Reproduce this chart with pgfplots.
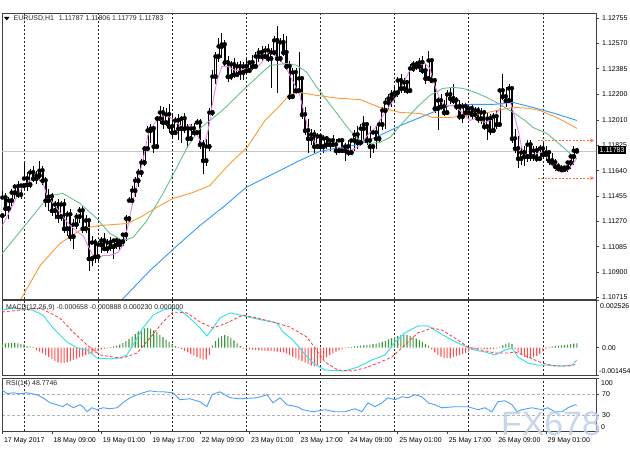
\documentclass[border=0pt]{standalone}
\usepackage{pgfplots}
\pgfplotsset{compat=1.18}
\usepackage{pgfplotstable}
\usepackage{fontspec}
\setmainfont{Liberation Sans}
\usetikzlibrary{arrows.meta}
\definecolor{maPink}{RGB}{238,130,238}
\definecolor{maGreen}{RGB}{102,194,140}
\definecolor{maOrange}{RGB}{255,153,51}
\definecolor{maBlue}{RGB}{51,153,255}
\definecolor{macdCyan}{RGB}{64,224,232}
\definecolor{sigRed}{RGB}{255,60,60}
\definecolor{histGreen}{RGB}{60,150,60}
\definecolor{histRed}{RGB}{255,80,80}
\definecolor{rsiBlue}{RGB}{77,160,255}
\definecolor{markOrange}{RGB}{255,110,60}
\definecolor{wm}{RGB}{190,208,232}
\newcommand{\sfont}{\fontsize{7}{8.4}\selectfont}

\pgfplotstableread{
i o h l c
0 1.11312 1.11495 1.11239 1.11444
1 1.11444 1.11480 1.11312 1.11364
2 1.11364 1.11451 1.11290 1.11422
3 1.11422 1.11510 1.11385 1.11480
4 1.11480 1.11546 1.11437 1.11524
5 1.11524 1.11568 1.11444 1.11466
6 1.11466 1.11546 1.11437 1.11532
7 1.11532 1.11700 1.11510 1.11583
8 1.11583 1.11627 1.11495 1.11539
9 1.11539 1.11656 1.11517 1.11627
10 1.11627 1.11671 1.11554 1.11583
11 1.11583 1.11641 1.11546 1.11605
12 1.11605 1.11714 1.11568 1.11641
13 1.11641 1.11678 1.11532 1.11568
14 1.11568 1.11597 1.11378 1.11422
15 1.11422 1.11510 1.11349 1.11451
16 1.11451 1.11480 1.11312 1.11349
17 1.11349 1.11422 1.11290 1.11393
18 1.11393 1.11437 1.11261 1.11305
19 1.11305 1.11422 1.11276 1.11393
20 1.11393 1.11437 1.11188 1.11217
21 1.11217 1.11349 1.11166 1.11320
22 1.11320 1.11364 1.11130 1.11159
23 1.11159 1.11290 1.11071 1.11247
24 1.11247 1.11334 1.11217 1.11305
25 1.11305 1.11378 1.11261 1.11349
26 1.11349 1.11385 1.11188 1.11217
27 1.11217 1.11320 1.11188 1.11276
28 1.11276 1.11290 1.10910 1.10998
29 1.10998 1.11166 1.10947 1.11115
30 1.11115 1.11144 1.10969 1.11013
31 1.11013 1.11130 1.10983 1.11100
32 1.11100 1.11159 1.11042 1.11130
33 1.11130 1.11188 1.11056 1.11071
34 1.11071 1.11144 1.11042 1.11115
35 1.11115 1.11159 1.11056 1.11086
36 1.11086 1.11130 1.10998 1.11130
37 1.11130 1.11159 1.11071 1.11100
38 1.11100 1.11152 1.11056 1.11122
39 1.11122 1.11188 1.11093 1.11173
40 1.11173 1.11320 1.11130 1.11290
41 1.11290 1.11451 1.11261 1.11422
42 1.11422 1.11532 1.11393 1.11495
43 1.11495 1.11597 1.11451 1.11568
44 1.11568 1.11656 1.11524 1.11627
45 1.11627 1.11729 1.11597 1.11700
46 1.11700 1.11824 1.11671 1.11802
47 1.11802 1.11970 1.11787 1.11934
48 1.11934 1.11978 1.11846 1.11948
49 1.11948 1.11963 1.11773 1.11817
50 1.11817 1.12043 1.11802 1.12021
51 1.12021 1.12116 1.11978 1.12065
52 1.12065 1.12109 1.11948 1.11992
53 1.11992 1.12095 1.11963 1.12051
54 1.12051 1.12124 1.11919 1.11963
55 1.11963 1.12051 1.11875 1.11919
56 1.11919 1.12036 1.11904 1.12007
57 1.12007 1.12051 1.11861 1.11948
58 1.11948 1.12043 1.11846 1.12021
59 1.12021 1.12065 1.11919 1.11948
60 1.11948 1.11978 1.11809 1.11875
61 1.11875 1.11978 1.11861 1.11948
62 1.11948 1.11992 1.11890 1.11919
63 1.11919 1.12021 1.11904 1.11992
64 1.11992 1.12021 1.11802 1.11831
65 1.11831 1.11861 1.11619 1.11714
66 1.11714 1.11875 1.11671 1.11817
67 1.11817 1.12095 1.11787 1.12065
68 1.12065 1.12372 1.12043 1.12328
69 1.12328 1.12504 1.12270 1.12475
70 1.12475 1.12606 1.12431 1.12548
71 1.12548 1.12643 1.12460 1.12562
72 1.12562 1.12592 1.12402 1.12431
73 1.12431 1.12475 1.12285 1.12328
74 1.12328 1.12445 1.12299 1.12416
75 1.12416 1.12460 1.12314 1.12343
76 1.12343 1.12431 1.12328 1.12402
77 1.12402 1.12445 1.12299 1.12358
78 1.12358 1.12431 1.12299 1.12402
79 1.12402 1.12460 1.12343 1.12372
80 1.12372 1.12445 1.12358 1.12431
81 1.12431 1.12482 1.12372 1.12402
82 1.12402 1.12504 1.12387 1.12475
83 1.12475 1.12533 1.12431 1.12504
84 1.12504 1.12548 1.12445 1.12475
85 1.12475 1.12548 1.12460 1.12518
86 1.12518 1.12562 1.12431 1.12460
87 1.12460 1.12533 1.12241 1.12504
88 1.12504 1.12621 1.12475 1.12592
89 1.12592 1.12694 1.12211 1.12460
90 1.12460 1.12606 1.12431 1.12577
91 1.12577 1.12635 1.12475 1.12504
92 1.12504 1.12621 1.12372 1.12402
93 1.12402 1.12445 1.12153 1.12182
94 1.12182 1.12387 1.12168 1.12358
95 1.12358 1.12387 1.12197 1.12226
96 1.12226 1.12504 1.12211 1.12314
97 1.12314 1.12328 1.12021 1.12051
98 1.12051 1.12109 1.11904 1.11934
99 1.11934 1.12021 1.11766 1.11875
100 1.11875 1.11948 1.11831 1.11904
101 1.11904 1.11934 1.11766 1.11817
102 1.11817 1.11919 1.11802 1.11890
103 1.11890 1.11904 1.11787 1.11817
104 1.11817 1.11904 1.11773 1.11875
105 1.11875 1.11890 1.11802 1.11831
106 1.11831 1.11875 1.11787 1.11861
107 1.11861 1.11904 1.11817 1.11831
108 1.11831 1.11875 1.11758 1.11787
109 1.11787 1.11875 1.11773 1.11861
110 1.11861 1.11875 1.11773 1.11787
111 1.11787 1.11846 1.11714 1.11817
112 1.11817 1.11861 1.11744 1.11773
113 1.11773 1.11875 1.11758 1.11861
114 1.11861 1.11934 1.11787 1.11904
115 1.11904 1.11963 1.11802 1.11846
116 1.11846 1.11978 1.11817 1.11948
117 1.11948 1.12036 1.11846 1.11978
118 1.11978 1.11992 1.11831 1.11861
119 1.11861 1.11963 1.11736 1.11817
120 1.11817 1.11948 1.11773 1.11919
121 1.11919 1.11963 1.11802 1.11875
122 1.11875 1.12007 1.11846 1.11978
123 1.11978 1.12109 1.11934 1.12080
124 1.12080 1.12168 1.11948 1.12138
125 1.12138 1.12197 1.12080 1.12168
126 1.12168 1.12226 1.12109 1.12197
127 1.12197 1.12255 1.12138 1.12211
128 1.12211 1.12328 1.12182 1.12299
129 1.12299 1.12343 1.12211 1.12241
130 1.12241 1.12314 1.12211 1.12285
131 1.12285 1.12299 1.12197 1.12226
132 1.12226 1.12416 1.12211 1.12387
133 1.12387 1.12445 1.12358 1.12416
134 1.12416 1.12445 1.12372 1.12402
135 1.12402 1.12460 1.12358 1.12431
136 1.12431 1.12475 1.12343 1.12372
137 1.12372 1.12416 1.12270 1.12314
138 1.12314 1.12518 1.12299 1.12445
139 1.12445 1.12460 1.12285 1.12299
140 1.12299 1.12314 1.12065 1.12095
141 1.12095 1.12182 1.11934 1.12153
142 1.12153 1.12197 1.12080 1.12109
143 1.12109 1.12153 1.12036 1.12065
144 1.12065 1.12226 1.12051 1.12197
145 1.12197 1.12241 1.12124 1.12168
146 1.12168 1.12270 1.12124 1.12153
147 1.12153 1.12182 1.12080 1.12109
148 1.12109 1.12153 1.12007 1.12036
149 1.12036 1.12138 1.11992 1.12109
150 1.12109 1.12138 1.12036 1.12065
151 1.12065 1.12124 1.12021 1.12095
152 1.12095 1.12124 1.12021 1.12051
153 1.12051 1.12109 1.12007 1.12080
154 1.12080 1.12109 1.11992 1.12021
155 1.12021 1.12095 1.11978 1.12065
156 1.12065 1.12080 1.11934 1.11963
157 1.11963 1.12065 1.11861 1.12021
158 1.12021 1.12051 1.11904 1.11934
159 1.11934 1.12065 1.11919 1.12036
160 1.12036 1.12080 1.11948 1.11978
161 1.11978 1.12241 1.11963 1.12226
162 1.12226 1.12343 1.12153 1.12182
163 1.12182 1.12255 1.12109 1.12153
164 1.12153 1.12270 1.12138 1.12241
165 1.12241 1.12255 1.11846 1.11875
166 1.11875 1.11948 1.11773 1.11802
167 1.11802 1.11890 1.11663 1.11729
168 1.11729 1.11817 1.11685 1.11773
169 1.11773 1.11817 1.11671 1.11744
170 1.11744 1.11861 1.11700 1.11831
171 1.11831 1.11861 1.11714 1.11744
172 1.11744 1.11817 1.11714 1.11787
173 1.11787 1.11817 1.11700 1.11729
174 1.11729 1.11831 1.11714 1.11802
175 1.11802 1.11846 1.11729 1.11758
176 1.11758 1.11817 1.11714 1.11773
177 1.11773 1.11787 1.11685 1.11714
178 1.11714 1.11773 1.11671 1.11700
179 1.11700 1.11729 1.11641 1.11671
180 1.11671 1.11700 1.11627 1.11656
181 1.11656 1.11685 1.11627 1.11649
182 1.11649 1.11678 1.11627 1.11663
183 1.11663 1.11714 1.11634 1.11700
184 1.11700 1.11773 1.11656 1.11744
185 1.11744 1.11817 1.11685 1.11787
186 1.11787 1.11806 1.11779 1.11783
}\candles

\pgfplotstableread[row sep=\\]{
i v\\
0 0.00020\\ 1 0.00022\\ 2 0.00024\\ 3 0.00025\\ 4 0.00025\\ 5 0.00023\\ 6 0.00020\\ 7 0.00016\\
8 0.00008\\ 9 0.00005\\ 10 0.00003\\ 11 -0.00015\\ 12 -0.00022\\ 13 -0.00030\\ 14 -0.00040\\
15 -0.00050\\ 16 -0.00060\\ 17 -0.00070\\ 18 -0.00078\\ 19 -0.00082\\ 20 -0.00082\\ 21 -0.00078\\
22 -0.00072\\ 23 -0.00065\\ 24 -0.00058\\ 25 -0.00052\\ 26 -0.00046\\ 27 -0.00040\\ 28 -0.00036\\
29 -0.00032\\ 30 -0.00028\\ 31 -0.00018\\ 32 -0.00010\\ 33 -0.00006\\ 34 -0.00004\\ 35 0.00003\\
36 0.00006\\ 37 0.00010\\ 38 0.00016\\ 39 0.00024\\ 40 0.00034\\ 41 0.00045\\ 42 0.00058\\
43 0.00072\\ 44 0.00086\\ 45 0.00096\\ 46 0.00102\\ 47 0.00104\\ 48 0.00100\\ 49 0.00092\\
50 0.00082\\ 51 0.00068\\ 52 0.00055\\ 53 0.00042\\ 54 0.00030\\ 55 0.00018\\ 56 0.00008\\
57 0.00003\\ 58 -0.00010\\ 59 -0.00018\\ 60 -0.00026\\ 61 -0.00034\\ 62 -0.00042\\ 63 -0.00050\\
64 -0.00058\\ 65 -0.00064\\ 66 -0.00062\\ 67 -0.00040\\ 68 0.00010\\ 69 0.00035\\ 70 0.00052\\
71 0.00062\\ 72 0.00066\\ 73 0.00062\\ 74 0.00052\\ 75 0.00038\\ 76 0.00022\\ 77 0.00008\\
78 -0.00005\\ 79 -0.00008\\ 80 -0.00010\\ 81 -0.00012\\ 82 -0.00012\\ 83 -0.00014\\ 84 -0.00016\\
85 -0.00016\\ 86 -0.00018\\ 87 -0.00018\\ 88 -0.00020\\ 89 -0.00022\\ 90 -0.00024\\ 91 -0.00026\\
92 -0.00032\\ 93 -0.00040\\ 94 -0.00048\\ 95 -0.00056\\ 96 -0.00064\\ 97 -0.00072\\ 98 -0.00080\\
99 -0.00088\\ 100 -0.00096\\ 101 -0.00100\\ 102 -0.00092\\ 103 -0.00078\\ 104 -0.00064\\
105 -0.00052\\ 106 -0.00040\\ 107 -0.00030\\ 108 -0.00022\\ 109 -0.00014\\ 110 -0.00008\\
111 -0.00003\\ 112 0.00002\\ 113 0.00004\\ 114 0.00006\\ 115 0.00008\\ 116 0.00010\\ 117 0.00012\\
118 0.00014\\ 119 0.00016\\ 120 0.00018\\ 121 0.00021\\ 122 0.00025\\ 123 0.00030\\ 124 0.00036\\
125 0.00043\\ 126 0.00050\\ 127 0.00056\\ 128 0.00062\\ 129 0.00066\\ 130 0.00068\\ 131 0.00066\\
132 0.00062\\ 133 0.00056\\ 134 0.00048\\ 135 0.00040\\ 136 0.00030\\ 137 0.00020\\ 138 0.00010\\
139 -0.00010\\ 140 -0.00025\\ 141 -0.00038\\ 142 -0.00048\\ 143 -0.00054\\ 144 -0.00056\\
145 -0.00055\\ 146 -0.00050\\ 147 -0.00045\\ 148 -0.00040\\ 149 -0.00034\\ 150 -0.00028\\
151 -0.00020\\ 152 -0.00014\\ 153 -0.00010\\ 154 -0.00008\\ 155 -0.00006\\ 156 -0.00008\\
157 -0.00010\\ 158 -0.00010\\ 159 -0.00008\\ 160 -0.00004\\ 161 0.00003\\ 162 0.00012\\
163 0.00020\\ 164 0.00024\\ 165 0.00018\\ 166 -0.00010\\ 167 -0.00025\\ 168 -0.00038\\
169 -0.00048\\ 170 -0.00054\\ 171 -0.00056\\ 172 -0.00052\\ 173 -0.00044\\ 174 -0.00034\\
175 -0.00020\\ 176 -0.00006\\ 177 0.00004\\ 178 0.00006\\ 179 0.00008\\ 180 0.00010\\
181 0.00012\\ 182 0.00014\\ 183 0.00016\\ 184 0.00018\\ 185 0.00021\\ 186 0.00023\\
}\hist

\begin{document}
\begin{tikzpicture}
\useasboundingbox (0,0) rectangle (630bp,460bp);
\fill[white] (0,0) rectangle (630bp,460bp);
\pgfplotsset{
  panel/.style={
    scale only axis, width=594bp,
    xmin=-0.13, xmax=192.2,
    axis line style={black!75, line width=0.8bp},
    xtick={7,31,55,79,103,127,151,175}, xticklabels={},
    xmajorgrids, x grid style={black!85, line width=0.6bp, dash pattern=on 2bp off 2bp},
    xtick style={draw=none},
    ytick pos=right, yticklabel pos=right, xtick pos=left,
    tick align=outside, major tick length=3bp,
    ytick style={black!75, line width=0.6bp},
    tick label style={font=\sfont, text=black},
    yticklabel style={anchor=west, inner sep=0pt, xshift=3bp},
    scaled ticks=false,
    /pgf/number format/assume math mode=true,
  },
}
% ---------------- price panel
\begin{axis}[panel, at={(2bp,447bp)}, anchor=north west, height=286bp,
  ymin=1.10703, ymax=1.12792,
  ytick={1.12755,1.1257,1.12385,1.122,1.1201,1.11825,1.1164,1.11455,1.1127,1.11085,1.109,1.10715},
  yticklabels={1.12755,1.12570,1.12385,1.12200,1.12010,1.11825,1.11640,1.11455,1.11270,1.11085,1.10900,1.10715},
]
\addplot[black!22, line width=0.8bp, forget plot] coordinates {(-1,1.11783) (193,1.11783)};
% wicks
\addplot[only marks, mark=none, forget plot,
  error bars/.cd, y dir=both, y explicit, error mark=none,
  error bar style={line width=0.55bp, black}]
  table[x=i, y=c, y error plus expr=\thisrow{h}-\thisrow{c}, y error minus expr=\thisrow{c}-\thisrow{l}] {\candles};
% bodies
\addplot[only marks, mark=none, forget plot,
  error bars/.cd, y dir=plus, y explicit, error mark=none,
  error bar style={line width=2.1bp, black, line cap=butt}]
  table[x=i, y expr={min(\thisrow{o},\thisrow{c})-0.00003}, y error plus expr={max(abs(\thisrow{c}-\thisrow{o}),0.00006)}] {\candles};
% hollow bull bodies
\addplot[only marks, mark=none, forget plot,
  error bars/.cd, y dir=plus, y explicit, error mark=none,
  error bar style={line width=1.1bp, white, line cap=butt}]
  table[x=i, y expr={\thisrow{o}+0.00002}, y error plus expr={max(\thisrow{c}-\thisrow{o}-0.00004,0)}] {\candles};
% moving averages
\addplot[maBlue, line width=0.9bp] coordinates {(38.5,1.10680)(39.0,1.10705)(47.8,1.10911)(55.9,1.11079)(64.0,1.11240)(72.1,1.11386)(78.9,1.11518)(86.6,1.11605)(96.3,1.11715)(102.8,1.11781)(109.3,1.11810)(115.8,1.11832)(122.2,1.11898)(129.7,1.11978)(138.4,1.12058)(144.9,1.12117)(151.4,1.12124)(158.8,1.12124)(165.3,1.12139)(171.8,1.12102)(178.9,1.12058)(186.0,1.12007)};
\addplot[maOrange, line width=0.9bp] coordinates {(5.5,1.10680)(6.3,1.10714)(12.2,1.10947)(18.6,1.11108)(26.1,1.11218)(31.6,1.11240)(40.3,1.11254)(44.5,1.11298)(50.0,1.11372)(55.2,1.11437)(61.7,1.11481)(67.2,1.11532)(69.5,1.11591)(73.7,1.11693)(79.2,1.11810)(85.0,1.12007)(89.9,1.12117)(93.1,1.12197)(96.3,1.12212)(101.8,1.12190)(109.3,1.12168)(115.8,1.12160)(122.2,1.12102)(128.7,1.12066)(135.2,1.12058)(139.4,1.12029)(144.9,1.12029)(150.4,1.12044)(155.6,1.12058)(163.4,1.12095)(166.6,1.12102)(170.8,1.12095)(174.0,1.12080)(179.5,1.12029)(186.0,1.11949)};
\addplot[maGreen, line width=0.9bp] coordinates {(-0.1,1.11035)(7.3,1.11240)(13.1,1.11401)(15.4,1.11459)(19.6,1.11474)(25.1,1.11401)(30.6,1.11291)(34.8,1.11181)(39.0,1.11130)(42.3,1.11152)(46.8,1.11276)(52.0,1.11474)(56.5,1.11664)(59.8,1.11810)(64.0,1.11949)(71.2,1.12080)(76.9,1.12205)(82.4,1.12322)(86.6,1.12409)(92.1,1.12424)(95.4,1.12409)(98.6,1.12358)(101.8,1.12249)(105.1,1.12153)(109.3,1.12029)(112.5,1.11934)(115.8,1.11861)(119.0,1.11839)(122.2,1.11847)(125.5,1.11883)(129.7,1.11993)(134.2,1.12102)(138.4,1.12190)(142.6,1.12241)(145.9,1.12249)(149.1,1.12241)(152.3,1.12219)(156.9,1.12175)(161.1,1.12124)(165.3,1.12066)(169.2,1.12007)(171.8,1.11956)(176.3,1.11912)(180.5,1.11832)(183.8,1.11766)(186.0,1.11730)};
\addplot[maPink, line width=0.9bp] coordinates {(0,1.11240)(2.5,1.11349)(5.7,1.11496)(8.9,1.11569)(11.5,1.11583)(13.1,1.11554)(14.4,1.11459)(17,1.11386)(19.3,1.11313)(21.9,1.11240)(24.5,1.11189)(26.1,1.11167)(27.7,1.11094)(29.3,1.11021)(30.6,1.10999)(32.6,1.11021)(34.8,1.11021)(37.4,1.11043)(39,1.11094)(40.7,1.11240)(42.3,1.11423)(43.9,1.11569)(45.5,1.11715)(47.1,1.11898)(48.8,1.11971)(50.4,1.12022)(52.6,1.12044)(54.3,1.12029)(55.9,1.12007)(57.5,1.11971)(59.1,1.11949)(60.7,1.11978)(62.3,1.11934)(64,1.11861)(65.3,1.11825)(66.6,1.11934)(67.9,1.12117)(69.5,1.12300)(71.1,1.12402)(73,1.12402)(75.3,1.12373)(76.9,1.12373)(78.9,1.12387)(80.8,1.12387)(82.7,1.12402)(84,1.12431)(85.3,1.12482)(86.6,1.12519)(87.9,1.12490)(89.9,1.12446)(91.5,1.12409)(93.1,1.12336)(94.7,1.12263)(96.3,1.12190)(97.9,1.12044)(99.6,1.11898)(101.2,1.11847)(102.8,1.11825)(104.4,1.11825)(106,1.11839)(107.7,1.11825)(109.3,1.11803)(110.9,1.11803)(112.5,1.11788)(114.1,1.11803)(115.8,1.11825)(117.4,1.11876)(119,1.11920)(120.6,1.11949)(122.2,1.12007)(123.9,1.12066)(125.5,1.12117)(127.1,1.12168)(128.7,1.12226)(130.3,1.12300)(131.9,1.12373)(133.6,1.12387)(135.2,1.12409)(136.8,1.12424)(138.4,1.12387)(140,1.12263)(141.7,1.12153)(143.3,1.12117)(144.9,1.12117)(146.5,1.12110)(148.1,1.12080)(149.8,1.12044)(151.4,1.12007)(153,1.12022)(154.6,1.12007)(156.2,1.11993)(157.9,1.12007)(159.5,1.12044)(161.1,1.12095)(162.7,1.12153)(164.3,1.12153)(165.3,1.12080)(167,1.11934)(168.2,1.11803)(169.9,1.11752)(171.5,1.11752)(173.1,1.11766)(174.7,1.11774)(176.3,1.11737)(177.9,1.11679)(179.5,1.11642)(181.2,1.11627)(182.8,1.11642)(184.4,1.11679)(186,1.11730)};
% high / low markers
\addplot[markOrange, line width=0.8bp, dash pattern=on 2bp off 1.5bp, -{Stealth[length=4bp,width=3.5bp]}] coordinates {(173.4,1.11861)(191.6,1.11861)};
\addplot[markOrange, line width=0.8bp, dash pattern=on 2bp off 1.5bp, -{Stealth[length=4bp,width=3.5bp]}] coordinates {(173.4,1.11586)(191.6,1.11586)};
\end{axis}
% ---------------- MACD panel
\begin{axis}[panel, at={(2bp,160bp)}, anchor=north west, height=75bp,
  ymin=-0.001454, ymax=0.002526,
  ytick={-0.001454,0,0.002526}, yticklabels={,0.00,},
]
\addplot[ybar, bar width=1.1bp, bar shift=0pt, fill=histGreen, draw=none, restrict y to domain=0:1] table[x=i, y=v] {\hist};
\addplot[ybar, bar width=1.1bp, bar shift=0pt, fill=histRed, draw=none, restrict y to domain=-1:0] table[x=i, y=v] {\hist};
\addplot[macdCyan, line width=1bp] coordinates {(-0.1,0.00199)(3.4,0.00210)(9.9,0.00199)(13.1,0.00173)(16.4,0.00104)(20.9,0.00030)(24.2,-0.00002)(27.4,-0.00013)(30.6,-0.00055)(34.8,-0.00060)(38.1,-0.00055)(40.3,-0.00039)(42.3,0.00014)(45.5,0.00104)(48.8,0.00173)(52.0,0.00199)(55.2,0.00210)(57.5,0.00199)(60.7,0.00157)(64.0,0.00104)(66.2,0.00062)(68.2,0.00104)(70.4,0.00157)(73.7,0.00184)(76.9,0.00173)(81.1,0.00157)(85.7,0.00141)(88.9,0.00131)(90.8,0.00083)(94.1,0.00040)(97.3,-0.00023)(100.6,-0.00082)(104.4,-0.00119)(110.9,-0.00124)(115.1,-0.00103)(119.6,-0.00066)(123.9,-0.00039)(127.1,0.00030)(130.3,0.00078)(134.5,0.00115)(137.8,0.00115)(140.0,0.00093)(144.3,0.00051)(148.8,0.00014)(153.0,-0.00013)(156.2,-0.00023)(159.5,-0.00039)(162.7,-0.00013)(165.0,-0.00002)(166.9,-0.00050)(170.2,-0.00082)(173.4,-0.00093)(176.6,-0.00093)(181.2,-0.00098)(184.4,-0.00093)(186.0,-0.00066)};
\addplot[sigRed, line width=0.8bp, dash pattern=on 3bp off 2bp] coordinates {(-0.1,0.00189)(5.7,0.00199)(12.2,0.00210)(18.6,0.00157)(22.9,0.00083)(27.4,0.00014)(31.6,-0.00039)(35.8,-0.00050)(39.0,-0.00055)(43.6,-0.00029)(47.8,0.00051)(52.0,0.00136)(55.2,0.00189)(59.8,0.00184)(64.0,0.00136)(68.2,0.00104)(72.7,0.00131)(77.9,0.00173)(82.4,0.00157)(87.6,0.00136)(93.1,0.00109)(98.6,0.00056)(101.2,-0.00002)(104.4,-0.00076)(108.6,-0.00119)(113.2,-0.00124)(117.4,-0.00108)(121.6,-0.00082)(126.1,-0.00050)(130.3,0.00014)(134.5,0.00078)(139.1,0.00104)(142.3,0.00093)(146.5,0.00051)(150.7,0.00003)(155.3,-0.00013)(159.5,-0.00029)(163.7,-0.00029)(166.0,-0.00023)(170.2,-0.00050)(174.7,-0.00082)(178.9,-0.00098)(183.1,-0.00098)(186.0,-0.00089)};
\end{axis}
% ---------------- RSI panel
\begin{axis}[panel, at={(2bp,82bp)}, anchor=north west, height=53.4bp,
  ymin=0, ymax=100, ytick={0,30,70,100}, yticklabels={,30,70,},
  ymajorgrids, y grid style={black!30, dash pattern=on 3bp off 2bp, line width=0.6bp},
  extra x ticks={0,16,32,48,64,80,96,112,128,144,160,176},
  extra x tick labels={17 May 2017,18 May 09:00,19 May 01:00,19 May 17:00,22 May 09:00,23 May 01:00,23 May 17:00,24 May 09:00,25 May 01:00,25 May 17:00,26 May 09:00,29 May 01:00},
  extra x tick style={grid=none, xtick style={draw=black!75, line width=0.6bp},
    xticklabel style={anchor=north west, inner sep=0pt, xshift=1.5bp, yshift=-3.5bp}},
]
\addplot[rsiBlue, line width=0.9bp] coordinates {(-0.1,77.9)(1.5,70.5)(3.4,72.3)(5.7,70.5)(8.0,72.3)(11.2,68.6)(13.1,63.0)(15.4,53.6)(17.7,49.9)(19.6,46.2)(20.9,51.8)(22.9,44.3)(25.1,49.9)(26.1,46.2)(27.4,36.8)(29.0,44.3)(30.6,40.6)(32.6,44.3)(34.8,42.4)(37.1,44.3)(39.0,53.6)(41.3,63.0)(43.6,68.6)(45.5,72.3)(47.8,76.1)(50.0,74.2)(52.0,74.2)(55.2,72.3)(57.5,59.3)(60.7,61.1)(64.0,55.5)(66.2,46.2)(67.9,68.6)(70.4,74.2)(73.7,63.0)(76.9,61.1)(82.4,63.0)(85.7,68.6)(87.6,53.6)(89.9,63.0)(92.1,49.9)(95.4,46.2)(97.3,40.6)(100.6,36.8)(104.4,40.6)(107.7,36.8)(110.9,36.8)(114.1,42.4)(116.4,36.8)(118.4,53.6)(120.6,46.2)(122.9,53.6)(124.8,63.0)(127.1,59.3)(129.4,64.9)(131.3,63.0)(133.6,68.6)(135.8,64.9)(137.8,53.6)(140.0,49.9)(142.3,44.3)(146.5,46.2)(150.7,46.2)(154.0,40.6)(156.2,44.3)(158.5,36.8)(160.4,55.5)(162.7,57.4)(165.0,49.9)(166.6,36.8)(168.2,40.6)(171.5,44.3)(174.7,40.6)(176.6,44.3)(178.9,36.8)(181.2,36.8)(183.1,44.3)(185.4,49.9)(186.0,48.8)};
\end{axis}
% ---------------- texts
\fill[black] (4bp,443bp) -- (9.5bp,443bp) -- (6.75bp,439.5bp) -- cycle;
\node[anchor=west, inner sep=0pt, font=\sfont, text=black!85] at (13.5bp,441bp) {EURUSD,H1\hspace{3bp} 1.11787 1.11806 1.11779 1.11783};
\node[anchor=west, inner sep=0pt, font=\sfont, text=black!85] at (6bp,152bp) {MACD(12,26,9) -0.000658 -0.000888 0.000230 0.000000};
\node[anchor=west, inner sep=0pt, font=\sfont, text=black!85] at (6bp,76bp) {RSI(14) 48.7746};
\node[anchor=west, inner sep=0pt, font=\sfont] at (600bp,154bp) {0.002526};
\node[anchor=west, inner sep=0pt, font=\sfont] at (599bp,89bp) {-0.001454};
\node[anchor=west, inner sep=0pt, font=\sfont] at (601bp,77bp) {100};
\node[anchor=west, inner sep=0pt, font=\sfont] at (601bp,33bp) {0};
\node[anchor=west, fill=black, text=white, inner xsep=1.5bp, inner ysep=1.4bp, font=\sfont] at (598bp,310bp) {1.11783};
\node[font=\fontsize{34}{34}\selectfont, text=wm, opacity=0.85] at (551bp,36bp) {FX678};
\end{tikzpicture}
\end{document}
